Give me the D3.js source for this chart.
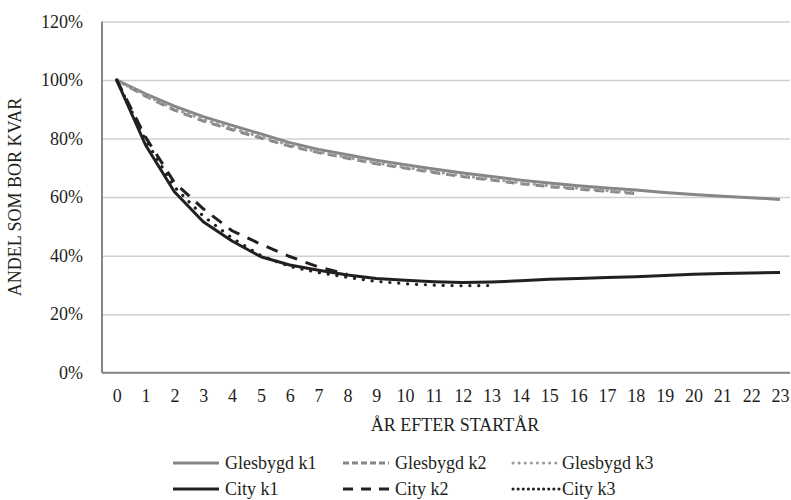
<!DOCTYPE html>
<html>
<head>
<meta charset="utf-8">
<script src="https://cdn.jsdelivr.net/npm/d3@7"></script>
<style>
  body { margin: 0; background: #fff; }
</style>
</head>
<body>
<svg id="chart" width="791" height="500"></svg>
<script>
// data, in percent
const years = d3.range(0, 24);
const yTicks = [0, 0.2, 0.4, 0.6, 0.8, 1.0, 1.2];

const glesbygdK1 = [100, 95.3, 91.1, 87.5, 84.5, 81.6, 78.6, 76.3, 74.5, 72.6, 71.1, 69.6, 68.2, 67.0, 65.8, 64.8, 63.9, 63.1, 62.4, 61.6, 60.9, 60.3, 59.8, 59.2];
const glesbygdK2 = [100, 94.5, 89.7, 86.0, 83.0, 80.2, 77.4, 75.2, 73.3, 71.4, 69.9, 68.4, 67.0, 65.8, 64.6, 63.6, 62.7, 62.0, 61.2];
const glesbygdK3 = [100, 94.8, 90.2, 86.5, 83.5, 80.6, 77.8, 75.5, 73.6, 71.7, 70.2, 68.7, 67.3, 66.1, 64.9, 63.9, 63.0, 62.2, 61.5];
const cityK1 = [100, 77.8, 61.8, 51.6, 45.0, 39.6, 36.8, 35.0, 33.4, 32.2, 31.6, 31.1, 30.8, 31.0, 31.4, 31.9, 32.2, 32.5, 32.8, 33.2, 33.6, 33.9, 34.1, 34.2];
const cityK2 = [100, 80.5, 65.0, 56.0, 48.5, 43.9, 39.7, 36.1, 33.6];
const cityK3 = [100, 79.5, 63.5, 53.5, 46.0, 40.0, 36.3, 34.2, 32.6, 31.2, 30.4, 29.9, 29.7, 29.8];

const series = [
  { name: "Glesbygd k1", values: glesbygdK1, color: "#868686", dash: null, legendDash: null, cap: "butt" },
  { name: "Glesbygd k2", values: glesbygdK2, color: "#868686", dash: "9,6", legendDash: "6,3", cap: "butt" },
  { name: "Glesbygd k3", values: glesbygdK3, color: "#9a9a9a", dash: "0.1,6", legendDash: "0.1,6", cap: "round" },
  { name: "City k1", values: cityK1, color: "#231f20", dash: null, legendDash: null, cap: "butt" },
  { name: "City k2", values: cityK2, color: "#231f20", dash: "12,9", legendDash: "10,8", cap: "butt" },
  { name: "City k3", values: cityK3, color: "#231f20", dash: "0.1,8.8", legendDash: "0.1,5", cap: "round" }
];

const FONT = "'Liberation Serif', 'Times New Roman', serif";
const svg = d3.select("#chart");
const plotLeft = 102, plotRight = 790, plotTop = 21.5, plotBottom = 372.7;

const x = d3.scalePoint().domain(years).range([116.7, 780]);
const y = d3.scaleLinear().domain([0, 1.2]).range([plotBottom, plotTop]);

function styleText(sel) {
  sel.style("font-family", FONT)
    .attr("font-size", 18).attr("fill", "#231f20");
}

// gridlines + y labels
const yAxis = svg.append("g")
  .attr("transform", `translate(${plotLeft},0)`)
  .call(d3.axisLeft(y).tickValues(yTicks).tickSize(-(plotRight - plotLeft)).tickPadding(19)
    .tickFormat(d3.format(".0%")));
yAxis.attr("font-family", null);
yAxis.select(".domain").remove();
yAxis.selectAll(".tick line").attr("stroke", "#d0d0d0").attr("stroke-width", 1.5);
yAxis.selectAll(".tick text").call(styleText);

// x labels
const xAxis = svg.append("g")
  .attr("transform", `translate(0,${plotBottom})`)
  .call(d3.axisBottom(x).tickSize(0).tickPadding(17));
xAxis.attr("font-family", null);
xAxis.select(".domain").remove();
xAxis.selectAll(".tick text").call(styleText);

// axis lines
svg.append("line").attr("x1", plotLeft).attr("x2", plotLeft).attr("y1", plotTop).attr("y2", plotBottom)
  .attr("stroke", "#868686").attr("stroke-width", 2);
svg.append("line").attr("x1", plotLeft).attr("x2", plotRight).attr("y1", plotBottom).attr("y2", plotBottom)
  .attr("stroke", "#868686").attr("stroke-width", 2);

// lines
const line = d3.line()
  .x((d, i) => x(years[i]))
  .y(d => y(d / 100));

series.forEach(s => {
  svg.append("path")
    .attr("d", line(s.values))
    .attr("fill", "none")
    .attr("stroke", s.color)
    .attr("stroke-width", s.cap === "round" ? 3.2 : 3)
    .attr("stroke-linecap", s.cap)
    .attr("stroke-linejoin", "round")
    .attr("stroke-dasharray", s.dash);
});

// axis titles
svg.append("text")
  .attr("x", 455).attr("y", 431)
  .attr("text-anchor", "middle")
  .call(styleText)
  .text("ÅR EFTER STARTÅR");
svg.append("text")
  .attr("transform", "translate(21,197) rotate(-90)")
  .attr("text-anchor", "middle")
  .call(styleText)
  .text("ANDEL SOM BOR KVAR");

// legend
const cols = [173, 343, 513];
const rows = [463, 489];
series.forEach((s, i) => {
  const cx = cols[i % 3], cy = rows[Math.floor(i / 3)];
  svg.append("line")
    .attr("x1", cx).attr("x2", cx + 46).attr("y1", cy).attr("y2", cy)
    .attr("stroke", s.color).attr("stroke-width", 3)
    .attr("stroke-linecap", s.cap)
    .attr("stroke-dasharray", s.legendDash);
  svg.append("text")
    .attr("x", i % 3 === 2 ? cx + 49 : cx + 52).attr("y", cy + 6)
    .call(styleText)
    .text(s.name);
});
</script>
</body>
</html>
